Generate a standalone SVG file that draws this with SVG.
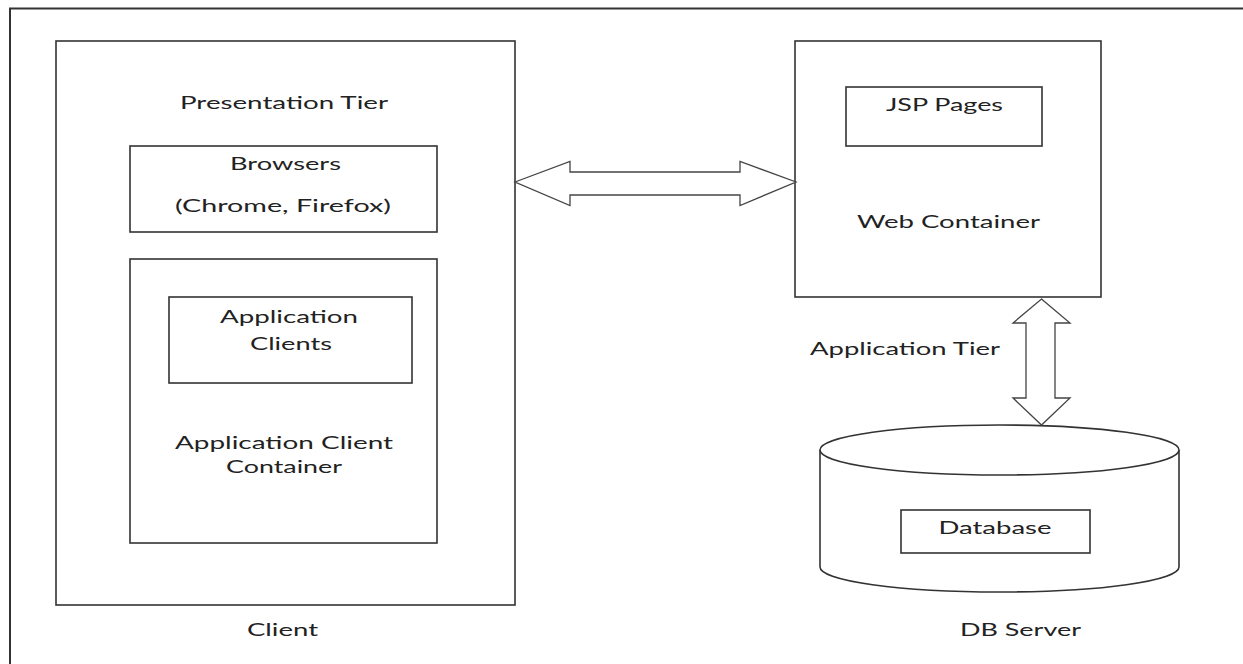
<svg xmlns="http://www.w3.org/2000/svg" width="1243" height="664" viewBox="0 0 1243 664">
<style>
.box{fill:#fff;stroke:#333;stroke-width:1.6}
.t{font-family:Lato,"Open Sans","Liberation Sans",sans-serif;font-size:18px;fill:#222}
.arr{fill:#fff;stroke:#444;stroke-width:1.3;stroke-linejoin:miter}
</style>
<rect width="1243" height="664" fill="#fff"/>
<path d="M10,670 V8.5 H1250" fill="none" stroke="#333" stroke-width="2"/>
<g id="client">
<rect class="box" x="56" y="41" width="459" height="564"/>
<text class="t" x="180" y="108.5" textLength="208" lengthAdjust="spacingAndGlyphs">Presentation Tier</text>
<text class="t" x="247" y="636" textLength="71" lengthAdjust="spacingAndGlyphs">Client</text>
</g>
<g id="browsers">
<rect class="box" x="130" y="146" width="307" height="86"/>
<text class="t" x="230" y="169.5" textLength="111" lengthAdjust="spacingAndGlyphs">Browsers</text>
<text class="t" x="175" y="211.5" textLength="216" lengthAdjust="spacingAndGlyphs">(Chrome, Firefox)</text>
</g>
<g id="app-client-container">
<rect class="box" x="130" y="259" width="307" height="284"/>
<text class="t" x="175" y="448.5" textLength="218" lengthAdjust="spacingAndGlyphs">Application Client</text>
<text class="t" x="226" y="472.5" textLength="116" lengthAdjust="spacingAndGlyphs">Container</text>
</g>
<g id="app-clients">
<rect class="box" x="169" y="297" width="243" height="86"/>
<text class="t" x="220" y="322.5" textLength="138" lengthAdjust="spacingAndGlyphs">Application</text>
<text class="t" x="250" y="350" textLength="82" lengthAdjust="spacingAndGlyphs">Clients</text>
</g>
<g id="web-container">
<rect class="box" x="795" y="41" width="306" height="256"/>
<text class="t" x="857" y="227.5" textLength="183" lengthAdjust="spacingAndGlyphs">Web Container</text>
</g>
<g id="jsp-pages">
<rect class="box" x="846" y="87" width="196" height="59"/>
<text class="t" x="886" y="110.5" textLength="117" lengthAdjust="spacingAndGlyphs">JSP Pages</text>
</g>
<g id="db-server">
<path class="box" d="M820,450 V567 A179.5,25 0 0 0 1179,567 V450"/>
<ellipse class="box" cx="999.5" cy="450" rx="179.5" ry="25"/>
<text class="t" x="960" y="636" textLength="121" lengthAdjust="spacingAndGlyphs">DB Server</text>
</g>
<g id="database">
<rect class="box" x="901" y="510" width="189" height="43"/>
<text class="t" x="938.5" y="534" textLength="113" lengthAdjust="spacingAndGlyphs">Database</text>
</g>
<g id="connectors">
<polygon class="arr" points="515,182 570,161.5 570,172 740,172 740,161.5 796,182 740,205.5 740,195 570,195 570,205.5"/>
<polygon class="arr" points="1041.5,299 1070,323 1055,323 1055,398 1070,398 1041.5,425 1013,398 1026,398 1026,323 1013,323"/>
<text class="t" x="810" y="355" textLength="190" lengthAdjust="spacingAndGlyphs">Application Tier</text>
</g>
</svg>
